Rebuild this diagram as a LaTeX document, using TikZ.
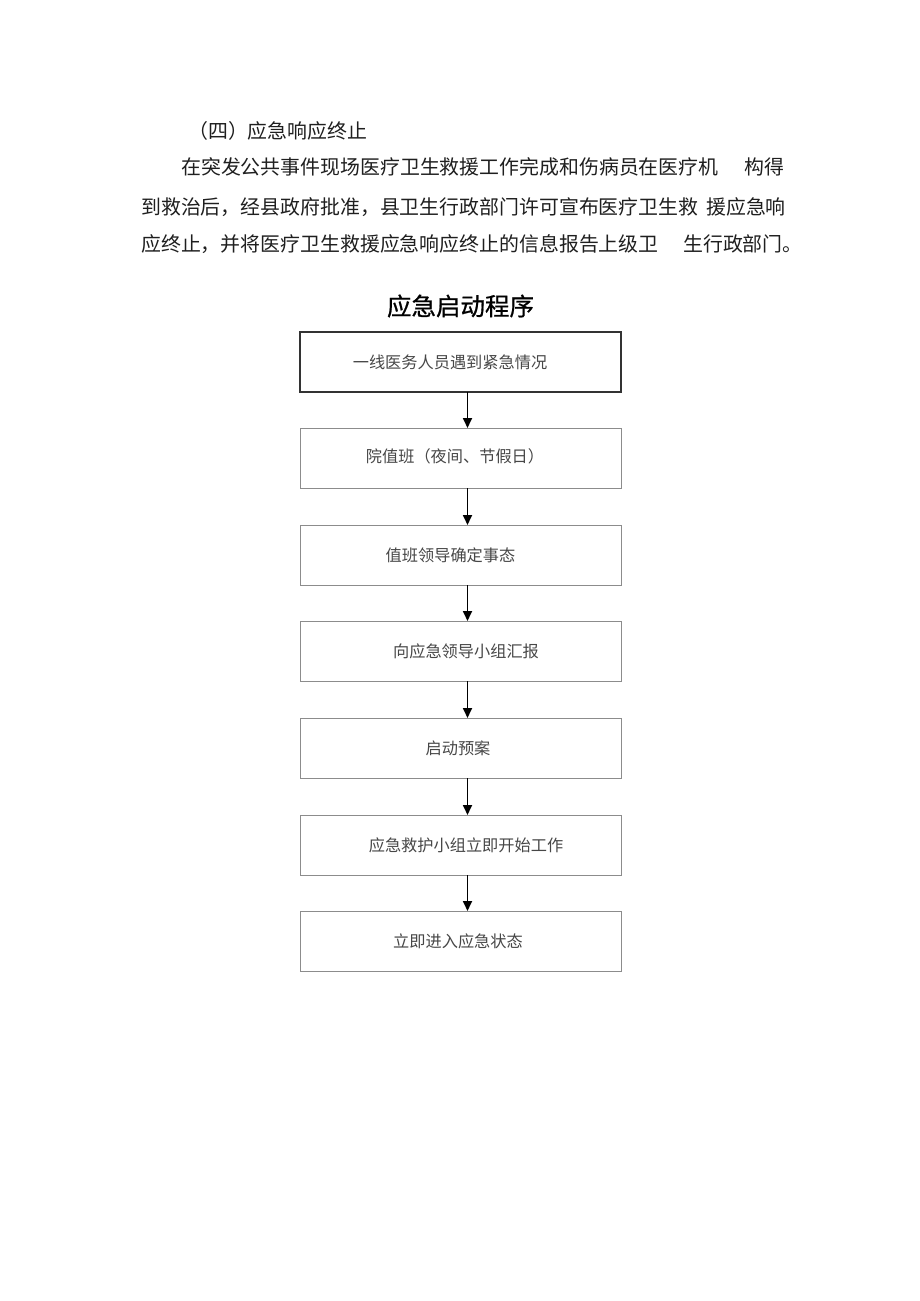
\documentclass[tikz,border=0pt]{standalone}
\usepackage{fontspec}
\newfontfamily\cjk{Noto Sans CJK SC}
\newfontfamily\cjkt[FakeBold=0.8]{Noto Sans CJK SC}
\usetikzlibrary{arrows.meta}
\begin{document}
\begin{tikzpicture}[x=1pt,y=-1pt,
  body/.style={anchor=west,inner sep=0pt,text=black!88,font=\cjk\fontsize{19.9}{20}\selectfont},
  stepbox/.style={draw=black!45,line width=1pt,minimum width=321pt,minimum height=60pt,inner sep=0pt,outer sep=0pt,text=black!72,font=\cjk\fontsize{16.2}{18}\selectfont},
  firstbox/.style={stepbox,draw=black!80,line width=1.6pt},
  arr/.style={draw=black,line width=1.7pt,-{Triangle[length=10pt,width=9pt]}}]
\useasboundingbox[fill=white] (0,0) rectangle (920,1301);
% paragraph
\node[body] (h) at (188,131) {（四）应急响应终止};
\node[body] (l1a) at (181,167) {在突发公共事件现场医疗卫生救援工作完成和伤病员在医疗机};
\node[body] (l1b) at (744,167) {构得};
\node[body] (l2a) at (141,207) {到救治后，经县政府批准，县卫生行政部门许可宣布医疗卫生救};
\node[body] (l2b) at (706,207) {援应急响};
\node[body] (l3a) at (141,244) {应终止，并将医疗卫生救援应急响应终止的信息报告上级卫};
\node[body] (l3b) at (683,244) {生行政部门。};
% title
\node[inner sep=0pt,text=black,font=\cjkt\fontsize{24.5}{26}\selectfont] (title) at (460.5,306) {应急启动程序};
% boxes
\node[firstbox] (b1) at (460.5,362) {一线医务人员遇到紧急情况\kern21pt};
\node[stepbox] (b2) at (460.5,458) {\raisebox{4pt}{院值班（夜间、节假日）}\kern11pt};
\node[stepbox] (b3) at (460.5,555) {值班领导确定事态\kern20pt};
\node[stepbox] (b4) at (460.5,651) {\kern11pt 向应急领导小组汇报};
\node[stepbox] (b5) at (460.5,748) {启动预案\kern5pt};
\node[stepbox] (b6) at (460.5,845) {\kern11pt 应急救护小组立即开始工作};
\node[stepbox] (b7) at (460.5,941) {立即进入应急状态\kern5pt};
\coordinate (ax) at (467.5,0);
\draw[arr] (b1.south -| ax) -- (b2.north -| ax);
\draw[arr] (b2.south -| ax) -- (b3.north -| ax);
\draw[arr] (b3.south -| ax) -- (b4.north -| ax);
\draw[arr] (b4.south -| ax) -- (b5.north -| ax);
\draw[arr] (b5.south -| ax) -- (b6.north -| ax);
\draw[arr] (b6.south -| ax) -- (b7.north -| ax);
\end{tikzpicture}
\end{document}
